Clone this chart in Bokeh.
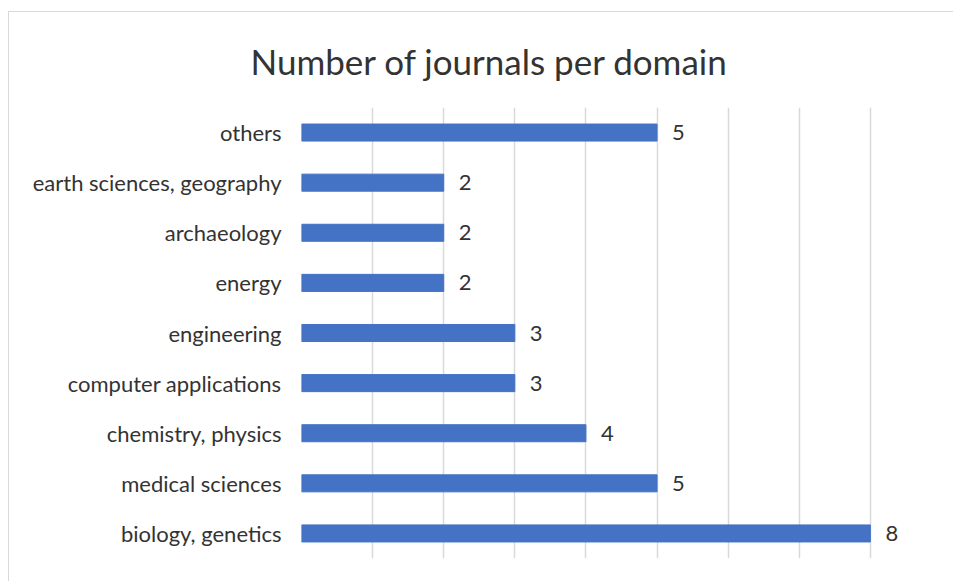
from bokeh.plotting import figure
from bokeh.models import FixedTicker, Range1d, FactorRange, ColumnDataSource
from bokeh.core.properties import value
from bokeh.embed import file_html
from bokeh.resources import INLINE

title_text = "Number of journals per domain"
categories = ["biology, genetics", "medical sciences", "chemistry, physics",
              "computer applications", "engineering", "energy", "archaeology",
              "earth sciences, geography", "others"]
counts = [8, 5, 4, 3, 3, 2, 2, 2, 5]
grid_ticks = [0, 1, 2, 3, 4, 5, 6, 7, 8, 9]

src = ColumnDataSource(dict(cat=categories, n=counts, lab=[str(c) for c in counts]))

p = figure(width=945, height=570, output_backend="svg", toolbar_location=None,
           y_range=FactorRange(*categories, range_padding=0),
           x_range=Range1d(0, 9),
           title=title_text)
p.min_border_left = 292
p.min_border_right = 13
p.min_border_top = 13
p.min_border_bottom = 24
p.outline_line_color = None
p.background_fill_color = "white"
p.border_fill_color = "white"
p.styles = {"border-top": "1px solid #d9d9d9", "border-left": "1px solid #d9d9d9",
            "margin-top": "11px", "margin-left": "8px"}

p.title.text_font = "Lato"
p.title.text_font_size = "35px"
p.title.text_font_style = "normal"
p.title.text_color = "#333333"
p.title.align = "left"
p.title.offset = -51
p.title.standoff = 51

p.hbar(y="cat", right="n", left=0, height=0.34, source=src,
       fill_color="#4472C4", line_color="#4472C4")
p.text(x="n", y="cat", text="lab", source=src, x_offset=15,
       text_align="left", text_baseline="middle",
       text_font=value("Lato"), text_font_size="22px", text_color="#333333")

p.xaxis.visible = False
p.xgrid.ticker = FixedTicker(ticks=grid_ticks)
p.xgrid.grid_line_color = "#d9d9d9"
p.xgrid.grid_line_width = 1.5
p.ygrid.grid_line_color = None

ax = p.yaxis[0]
ax.axis_line_color = None
ax.major_tick_line_color = None
ax.minor_tick_line_color = None
ax.major_tick_out = 0
ax.major_label_standoff = 20
ax.major_label_text_font = "Lato"
ax.major_label_text_font_size = "22px"
ax.major_label_text_color = "#333333"

open("out.html", "w").write(file_html(p, INLINE))
